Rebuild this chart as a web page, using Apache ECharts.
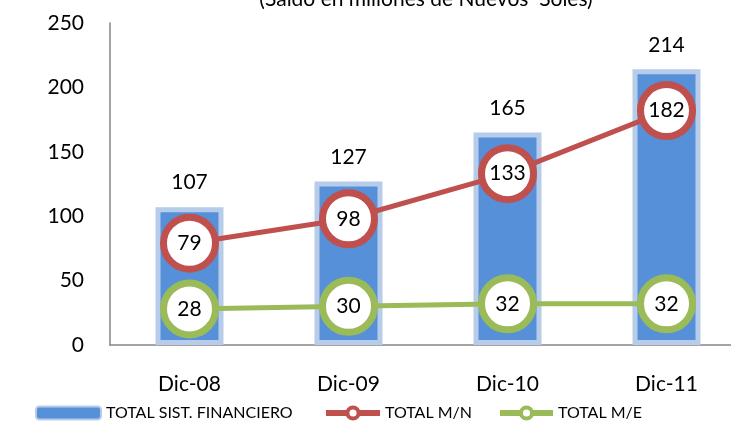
<!DOCTYPE html>
<html>
<head>
<meta charset="utf-8">
<script src="https://cdn.jsdelivr.net/npm/echarts@6/dist/echarts.min.js"></script>
<style>html,body{margin:0;padding:0;background:#fff;overflow:hidden}#c{width:747px;height:423px}</style>
</head>
<body>
<div id="c"></div>
<script>
var categories = ['Dic-08', 'Dic-09', 'Dic-10', 'Dic-11'];
var totalSist = [107, 127, 165, 214];
var totalMN = [79, 98, 133, 182];
var totalME = [28, 30, 32, 32];
var titleText = '(Saldo en millones de Nuevos  Soles)';

var FONT = 'Lato, "Open Sans", sans-serif';
var chart = echarts.init(document.getElementById('c'), null, {renderer: 'canvas'});
var circleLabel = {show: true, position: 'inside', color: '#000', fontSize: 21, fontFamily: FONT};
var legTxt = {fontSize: 16, fontFamily: FONT, color: '#000'};
chart.setOption({
  animation: false,
  graphic: [{
    type: 'text', x: 426, y: -11,
    style: {text: titleText, fontSize: 21, fontFamily: FONT, fill: '#000', textAlign: 'center'}
  }],
  grid: {left: 110, right: 1, top: 23, bottom: 78, containLabel: false},
  legend: [{
    left: 35, top: 405, itemWidth: 65, itemHeight: 13, textStyle: legTxt, padding: [0, 0, 0, 0],
    data: [{name: 'TOTAL SIST. FINANCIERO'}]
  }, {
    left: 323, top: 405, itemWidth: 54, itemHeight: 14, textStyle: legTxt, padding: [0, 0, 0, 0],
    data: [{name: 'TOTAL M/N', itemStyle: {borderWidth: 4}, lineStyle: {width: 6}}]
  }, {
    left: 497, top: 405, itemWidth: 53, itemHeight: 14, textStyle: legTxt, padding: [0, 0, 0, 0],
    data: [{name: 'TOTAL M/E', itemStyle: {borderWidth: 4}, lineStyle: {width: 6}}]
  }],
  xAxis: {
    type: 'category', data: categories,
    axisLine: {lineStyle: {color: '#868686', width: 1.5}},
    axisTick: {show: false},
    axisLabel: {color: '#000', fontSize: 21, fontFamily: FONT, margin: 29}
  },
  yAxis: {
    type: 'value', min: 0, max: 250, interval: 50,
    axisLine: {show: true, lineStyle: {color: '#868686', width: 1.5}},
    axisTick: {show: false},
    splitLine: {show: false},
    axisLabel: {color: '#000', fontSize: 21, fontFamily: FONT, margin: 26}
  },
  series: [{
    name: 'TOTAL SIST. FINANCIERO', type: 'bar', data: totalSist, barWidth: 68,
    itemStyle: {color: '#5590D8', borderColor: '#B7CCE8', borderWidth: 5},
    label: {show: true, position: 'top', distance: 14, color: '#000', fontSize: 21, fontFamily: FONT}
  }, {
    name: 'TOTAL M/N', type: 'line', data: totalMN, symbol: 'circle', symbolSize: 52,
    lineStyle: {color: '#C0504D', width: 5},
    itemStyle: {color: '#fff', borderColor: '#C0504D', borderWidth: 7},
    label: circleLabel, z: 5
  }, {
    name: 'TOTAL M/E', type: 'line', data: totalME, symbol: 'circle', symbolSize: 52,
    lineStyle: {color: '#9BBB59', width: 5},
    itemStyle: {color: '#fff', borderColor: '#9BBB59', borderWidth: 7},
    label: circleLabel, z: 5
  }]
});
</script>
</body>
</html>
